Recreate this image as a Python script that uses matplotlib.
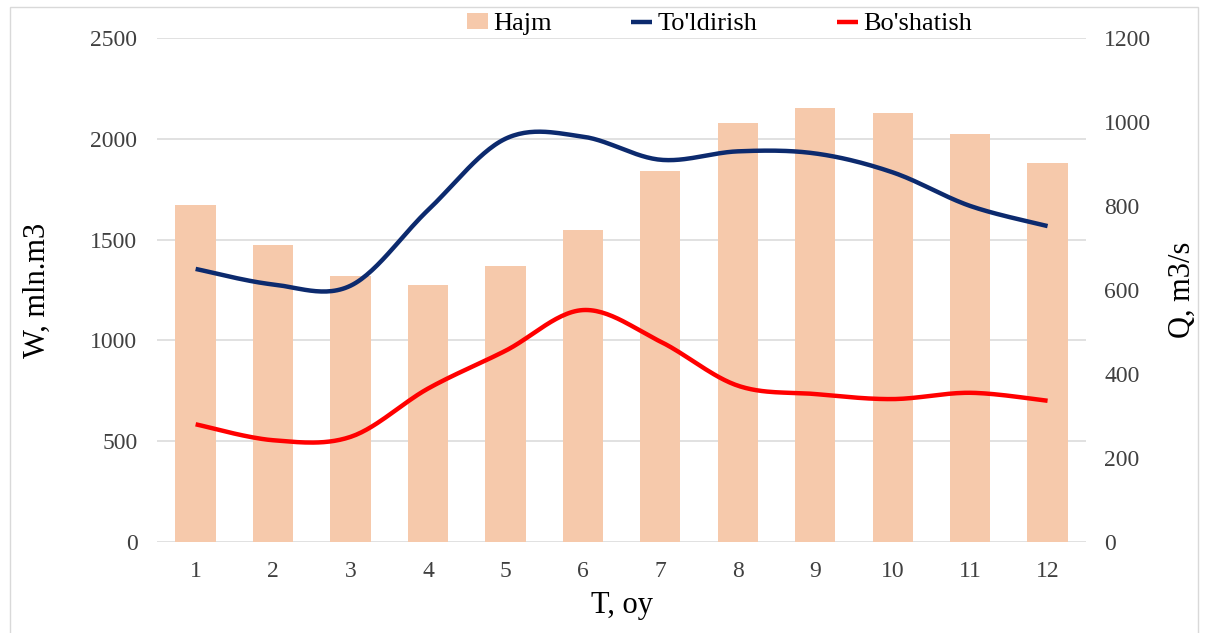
import numpy as np
import matplotlib
matplotlib.use("Agg")
import matplotlib.pyplot as plt
from matplotlib.patches import Rectangle

plt.rcParams['font.family'] = ['Liberation Serif', 'DejaVu Serif']

# data
months = [1, 2, 3, 4, 5, 6, 7, 8, 9, 10, 11, 12]
hajm = [1670, 1475, 1320, 1275, 1370, 1545, 1840, 2080, 2155, 2130, 2025, 1880]
toldirish = [650, 613, 610, 790, 960, 965, 910, 930, 925, 880, 800, 752]
boshatish = [280, 242, 250, 365, 455, 552, 477, 372, 352, 340, 355, 336]


def smooth(x, y, n=30):
    # catmull-rom, roughly what excel does for "smoothed line"
    x = np.asarray(x, float)
    y = np.asarray(y, float)
    px = np.concatenate([[x[0]], x, [x[-1]]])
    py = np.concatenate([[y[0]], y, [y[-1]]])
    xs, ys = [], []
    t = np.linspace(0, 1, n)
    for i in range(1, len(px) - 2):
        p0, p1, p2, p3 = (np.array([px[j], py[j]]) for j in range(i - 1, i + 3))
        m1 = (p2 - p0) / 2
        m2 = (p3 - p1) / 2
        h00 = 2 * t**3 - 3 * t**2 + 1
        h10 = t**3 - 2 * t**2 + t
        h01 = -2 * t**3 + 3 * t**2
        h11 = t**3 - t**2
        pts = (np.outer(h00, p1) + np.outer(h10, m1) + np.outer(h01, p2) + np.outer(h11, m2))
        xs.extend(pts[:, 0])
        ys.extend(pts[:, 1])
    return xs, ys


fig = plt.figure(figsize=(12.07, 6.33), dpi=100)
ax = fig.add_axes([0.130, 0.144, 0.770, 0.796])
ax2 = ax.twinx()

# border round the whole chart
fig.patches.append(Rectangle((10 / 1207, -0.05), 1188 / 1207, 1.05 - 7 / 633,
                             transform=fig.transFigure, fill=False,
                             edgecolor='#d9d9d9', linewidth=1))

b = ax.bar(months, hajm, width=0.52, color='#f6c9ab', label='Hajm', zorder=2)
ax.set_xlim(0.5, 12.5)
ax.set_ylim(0, 2500)
ax.set_yticks([0, 500, 1000, 1500, 2000, 2500])
ax.grid(axis='y', color='#dcdcdc', linewidth=1.2, zorder=0)
ax.set_axisbelow(True)

sx, sy = smooth(months, toldirish)
l1, = ax2.plot(sx, sy, color='#0c2a6e', linewidth=3.2, label="To'ldirish",
               solid_capstyle='butt')
sx, sy = smooth(months, boshatish)
l2, = ax2.plot(sx, sy, color='#ff0000', linewidth=3.2, label="Bo'shatish",
               solid_capstyle='butt')
ax2.set_ylim(0, 1200)
ax2.set_yticks([0, 200, 400, 600, 800, 1000, 1200])

for a in (ax, ax2):
    for s in a.spines.values():
        s.set_visible(False)
    a.tick_params(length=0, labelsize=17, colors='#404040')

ax.set_xticks(months)
ax.tick_params(axis='x', pad=14)
ax.tick_params(axis='y', pad=14)
ax2.tick_params(axis='y', pad=13)

ax.set_xlabel('T, oy', fontsize=22, labelpad=6)
ax.set_ylabel('W, mln.m3', fontsize=22, labelpad=28)
ax2.set_ylabel('Q, m3/s', fontsize=22, labelpad=12)

fig.legend([b, l1, l2], ['Hajm', "To'ldirish", "Bo'shatish"], loc='center',
           bbox_to_anchor=(0.596, 0.962), ncol=3, frameon=False, fontsize=19,
           handlelength=0.8, handleheight=0.6, handletextpad=0.2,
           columnspacing=3.0)

fig.savefig('out.png', dpi=100)
